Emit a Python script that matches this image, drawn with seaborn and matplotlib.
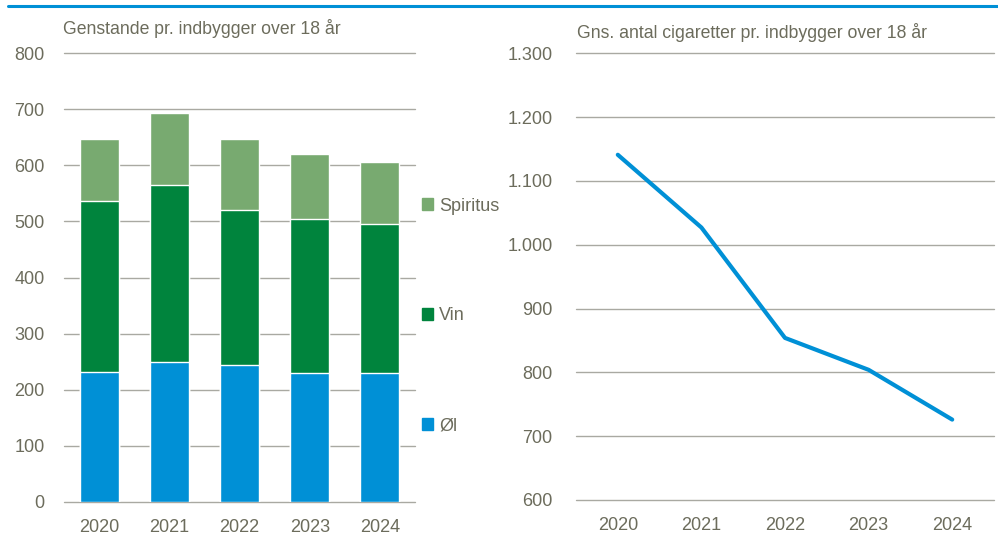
import numpy as np
import pandas as pd
import matplotlib
matplotlib.use("Agg")
import matplotlib.pyplot as plt
from matplotlib.patches import Patch
from matplotlib.lines import Line2D
from matplotlib.ticker import FuncFormatter
import seaborn as sns

# data
years = ["2020", "2021", "2022", "2023", "2024"]
ol = [232, 249, 244, 229, 230]
vin = [304, 315, 277, 276, 266]
spiritus = [110, 129, 125, 115, 109]
cigaretter = [1141, 1027, 854, 804, 726]

blue = "#0090d6"
dark_green = "#00843d"
light_green = "#78aa70"
text_col = "#6c6c5c"
grid_col = "#a9a9a2"

sns.set_theme(style="white")
plt.rcParams["font.family"] = ["Liberation Sans", "DejaVu Sans"]

df = pd.DataFrame({"year": years, "ol": ol, "vin": vin, "spiritus": spiritus})
df["ol_vin"] = df["ol"] + df["vin"]
df["total"] = df["ol_vin"] + df["spiritus"]

fig = plt.figure(figsize=(9.98, 5.38), dpi=100)
W, H = 998, 538
ax1 = fig.add_axes([64 / W, 1 - 502 / H, (415 - 64) / W, (502 - 53) / H])
ax2 = fig.add_axes([576 / W, 1 - 500 / H, (994 - 576) / W, (500 - 53.3) / H])

# stacked bars: draw cumulative totals, tallest first
bw = 0.555
sns.barplot(data=df, x="year", y="total", color=light_green, width=bw, saturation=1, ax=ax1)
sns.barplot(data=df, x="year", y="ol_vin", color=dark_green, width=bw, saturation=1, ax=ax1)
sns.barplot(data=df, x="year", y="ol", color=blue, width=bw, saturation=1, ax=ax1)

ax1.set_ylim(0, 800)
ax1.set_xlim(-0.5, 4.5)
ax1.set_yticks(range(0, 801, 100))

# line chart
yr_num = [int(y) for y in years]
sns.lineplot(x=yr_num, y=cigaretter, color=blue, linewidth=3.0, ax=ax2,
             solid_capstyle="round")
ax2.set_ylim(600, 1300)
ax2.set_xlim(2019.5, 2024.5)
ax2.set_xticks(yr_num)
ax2.set_xticklabels(years)
ax2.set_yticks(range(600, 1301, 100))
ax2.yaxis.set_major_formatter(FuncFormatter(lambda v, p: f"{int(v):,}".replace(",", ".")))

for ax, ypad in ((ax1, 14), (ax2, 17)):
    ax.set_xlabel("")
    ax.set_ylabel("")
    for s in ax.spines.values():
        s.set_visible(False)
    ax.yaxis.grid(True, color=grid_col, linewidth=1.0)
    ax.set_axisbelow(True)
    ax.tick_params(axis="y", length=0, pad=ypad, labelsize=13, labelcolor=text_col)
    ax.tick_params(axis="x", length=0, pad=12, labelsize=13, labelcolor=text_col)
    for gl in ax.get_ygridlines():
        gl.set_clip_on(False)

# legend with the order top to bottom as in the chart
handles = [Patch(color=light_green), Patch(color=dark_green), Patch(color=blue)]
fig.legend(handles, ["Spiritus", "Vin", "Øl"], loc="center left",
           bbox_to_anchor=(422 / W, 1 - 316 / H), frameon=False,
           fontsize=13, labelcolor=text_col, handlelength=0.6, handleheight=0.6,
           handletextpad=0.35, labelspacing=5.15, borderpad=0, borderaxespad=0)

fig.text(63 / W, 1 - 34.5 / H, "Genstande pr. indbygger over 18 år",
         fontsize=12.7, color=text_col, va="baseline", ha="left")
fig.text(577 / W, 1 - 37.5 / H, "Gns. antal cigaretter pr. indbygger over 18 år",
         fontsize=12.7, color=text_col, va="baseline", ha="left")

# blue rule along the top
fig.add_artist(Line2D([8 / W, 1.0], [1 - 5.5 / H, 1 - 5.5 / H], color=blue,
                      linewidth=2.2, transform=fig.transFigure))

fig.savefig("out.png", dpi=100)
